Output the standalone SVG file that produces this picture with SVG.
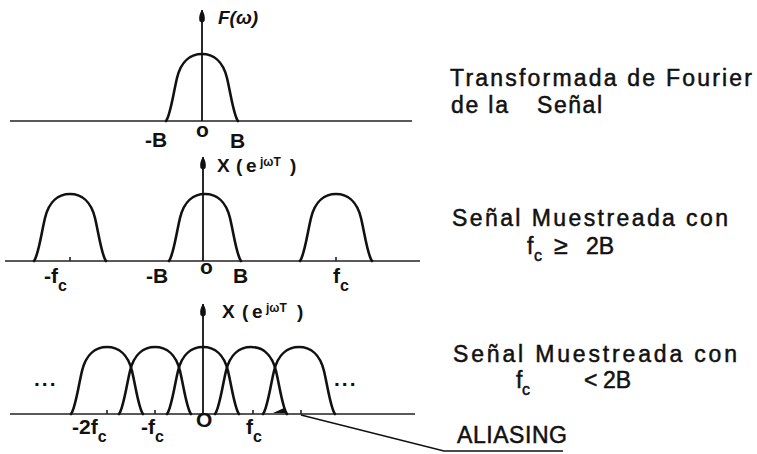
<svg xmlns="http://www.w3.org/2000/svg" width="757" height="454" viewBox="0 0 757 454">
<style>
text{font-family:"Liberation Sans","DejaVu Sans",Arial,sans-serif;fill:#111}
.lbl{font-size:23px;stroke:#111;stroke-width:0.5}
.ax{font-size:21px;font-weight:bold}
.sub{font-size:16px}
.fn{font-size:19px;font-weight:bold}
.sup{font-size:12px;font-weight:bold}
.base{stroke:#222;stroke-width:1.6;fill:none}
.axis{stroke:#111;stroke-width:1.8;fill:none}
.bump{stroke:#111;stroke-width:2.6;fill:none;stroke-linecap:round}
.tick{stroke:#222;stroke-width:1.6}
.ptr{stroke:#111;stroke-width:1.4;fill:none}
</style>
<defs>
<marker id="arr" markerUnits="userSpaceOnUse" markerWidth="14" markerHeight="10" viewBox="0 0 14 10" refX="13" refY="5" orient="auto">
<path d="M13,5 C10,7.5 6,8.3 2,7.6 L0,5 L2,2.4 C6,1.7 10,2.5 13,5 Z" fill="#111"/>
</marker>
<path id="bump" d="M-36,0 C-31.7,-5.4 -29,-26 -25,-43 C-21,-60 -11,-67 0,-67 C11,-67 21,-60 25,-43 C29,-26 31.7,-5.4 36,0"/>
</defs>

<g id="panel1">
<line class="base" x1="10" y1="121" x2="412" y2="121"/>
<use href="#bump" class="bump" x="202" y="121"/>
<line class="axis" x1="202" y1="121" x2="202" y2="10" marker-end="url(#arr)"/>
<text class="fn" x="218" y="24" font-style="italic" font-size="17">F(ω)</text>
<text class="ax" x="145" y="147">-B</text>
<text class="ax" x="196" y="137" font-size="14">o</text>
<text class="ax" x="230" y="148">B</text>
</g>

<g id="label1">
<text class="lbl" x="450" y="86" textLength="302" lengthAdjust="spacing">Transformada de Fourier</text>
<text class="lbl" x="451" y="113" textLength="57" lengthAdjust="spacing">de la</text>
<text class="lbl" x="537" y="113" textLength="65" lengthAdjust="spacing">Señal</text>
</g>

<g id="panel2">
<line class="base" x1="5" y1="261" x2="420" y2="261"/>
<use href="#bump" class="bump" x="70" y="261"/>
<use href="#bump" class="bump" x="205" y="261"/>
<use href="#bump" class="bump" x="336" y="261"/>
<line class="tick" x1="70" y1="261" x2="70" y2="257"/>
<line class="tick" x1="336" y1="261" x2="336" y2="257"/>
<line class="axis" x1="203" y1="261" x2="203" y2="157" marker-end="url(#arr)"/>
<text class="fn" y="172"><tspan x="217">X</tspan><tspan x="236">(</tspan><tspan x="246">e</tspan><tspan class="sup" x="260" dy="-6">jωT</tspan><tspan x="290" dy="6">)</tspan></text>
<text class="ax" x="44" y="283">-f<tspan class="sub" dy="8">c</tspan></text>
<text class="ax" x="146" y="283">-B</text>
<text class="ax" x="200" y="274" font-size="14">o</text>
<text class="ax" x="233" y="283">B</text>
<text class="ax" x="333" y="283">f<tspan class="sub" dy="8">c</tspan></text>
</g>

<g id="label2">
<text class="lbl" x="452" y="226" textLength="276" lengthAdjust="spacing">Señal Muestreada con</text>
<text class="lbl" y="254" font-size="22"><tspan x="527">f</tspan><tspan class="sub" x="534" dy="7">c</tspan><tspan x="554" dy="-7" font-size="25">≥</tspan><tspan x="586">2B</tspan></text>
</g>

<g id="panel3">
<line class="base" x1="10" y1="414" x2="415" y2="414"/>
<use href="#bump" class="bump" x="107" y="414"/>
<use href="#bump" class="bump" x="155" y="414"/>
<use href="#bump" class="bump" x="203" y="414"/>
<use href="#bump" class="bump" x="251" y="414"/>
<use href="#bump" class="bump" x="299" y="414"/>
<line class="tick" x1="107" y1="414" x2="107" y2="410"/>
<line class="tick" x1="155" y1="414" x2="155" y2="410"/>
<line class="tick" x1="253" y1="414" x2="253" y2="410"/>
<line class="tick" x1="301" y1="414" x2="301" y2="410"/>
<path d="M273,413 L287,413 L284,408 Z" fill="#111"/>
<line class="axis" x1="203" y1="414" x2="203" y2="304" marker-end="url(#arr)"/>
<text class="fn" y="318"><tspan x="222">X</tspan><tspan x="242">(</tspan><tspan x="252">e</tspan><tspan class="sup" x="266" dy="-6">jωT</tspan><tspan x="297" dy="6">)</tspan></text>
<text class="ax" x="34" y="386" letter-spacing="2">...</text>
<text class="ax" x="334" y="386" letter-spacing="2">...</text>
<text class="ax" x="72" y="434">-2f<tspan class="sub" dy="8">c</tspan></text>
<text class="ax" x="141" y="434">-f<tspan class="sub" dy="8">c</tspan></text>
<text class="ax" x="196" y="427" font-size="13">O</text>
<text class="ax" x="246" y="434">f<tspan class="sub" dy="8">c</tspan></text>
</g>

<g id="label3">
<text class="lbl" x="453" y="362" textLength="284" lengthAdjust="spacing">Señal Muestreada con</text>
<text class="lbl" y="388" font-size="20"><tspan x="516">f</tspan><tspan class="sub" x="522" dy="7">c</tspan><tspan x="584" dy="-7">&lt;</tspan><tspan x="603">2B</tspan></text>
<text class="lbl" x="457" y="443" textLength="110" lengthAdjust="spacing">ALIASING</text>
</g>

<g id="connectors">
<polyline class="ptr" points="301,415 444,451 563,451"/>
</g>
</svg>
